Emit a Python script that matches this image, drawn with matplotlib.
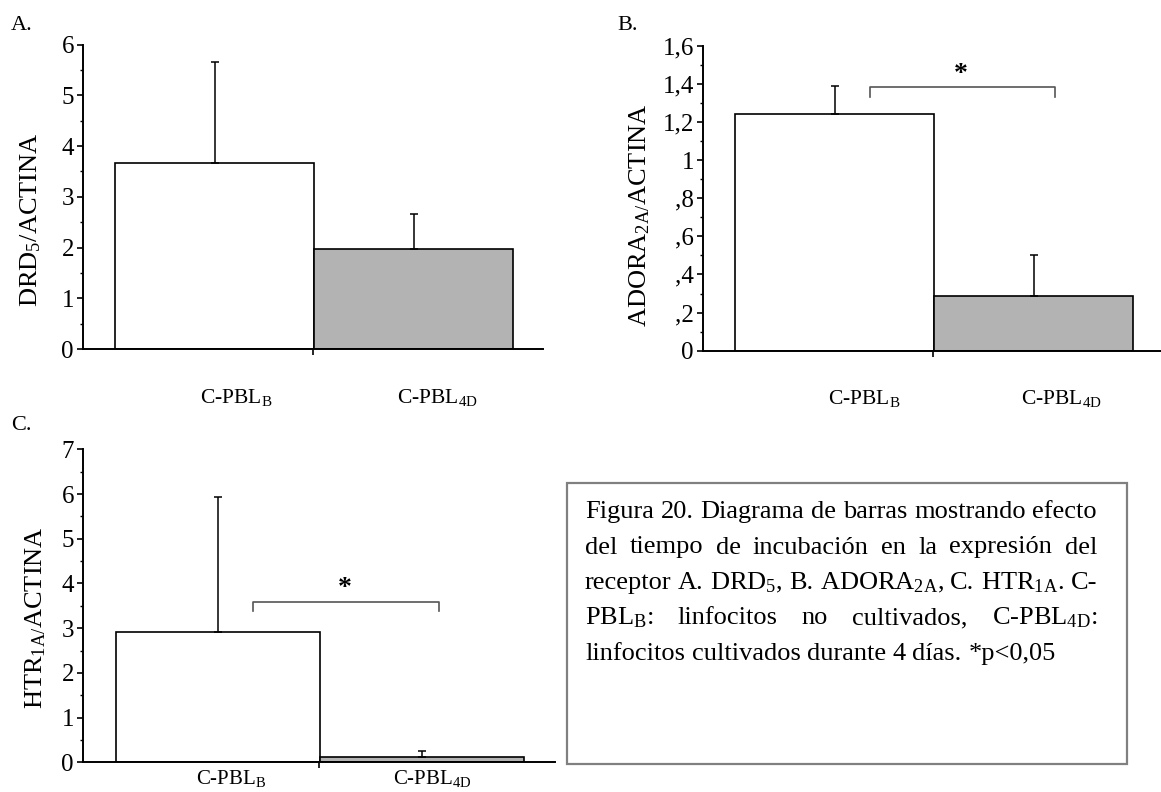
import numpy as np
import matplotlib
matplotlib.use("Agg")
import matplotlib.pyplot as plt
from matplotlib.patches import Rectangle
from matplotlib.ticker import MultipleLocator

plt.rcParams["font.family"] = ["Liberation Serif", "DejaVu Serif"]
plt.rcParams["mathtext.fontset"] = "custom"
plt.rcParams["mathtext.rm"] = "Liberation Serif"
plt.rcParams["mathtext.it"] = "Liberation Serif:italic"

# data (mean and upper SD for each group)
groups = ["C-PBL$_\\mathrm{B}$", "C-PBL$_\\mathrm{4D}$"]
drd5_mean = [3.66, 1.97]
drd5_err = [1.99, 0.69]
adora_mean = [1.243, 0.287]
adora_err = [0.146, 0.215]
htr_mean = [2.92, 0.11]
htr_err = [3.02, 0.15]
adora_ticks = [0, 0.2, 0.4, 0.6, 0.8, 1.0, 1.2, 1.4, 1.6]
adora_ticklabels = ["0", ",2", ",4", ",6", ",8", "1", "1,2", "1,4", "1,6"]

bar_colors = ["white", "#b3b3b3"]
W, H = 1161, 792

fig = plt.figure(figsize=(W / 100, H / 100), dpi=100)


def px_rect(x0, x1, ytop, ybot):
    return [x0 / W, 1 - ybot / H, (x1 - x0) / W, (ybot - ytop) / H]


def panel(rect, means, errs, ymax, major, minor, tick_fs, label_x, label_pad, label_fs):
    ax = fig.add_axes(rect)
    xpos = 1 + np.array([-0.428, 0.437])
    ax.bar(xpos, means, width=0.862, color=bar_colors, edgecolor="black",
           linewidth=1.2, zorder=2)
    ax.errorbar(xpos, means, yerr=[np.zeros(len(errs)), errs], fmt="none",
                ecolor="black", elinewidth=1.1, capsize=3, capthick=1.1, zorder=3)
    ax.set_xlim(0, 2)
    ax.set_ylim(0, ymax)
    for s in ["top", "right"]:
        ax.spines[s].set_visible(False)
    for s in ["left", "bottom"]:
        ax.spines[s].set_linewidth(1.4)
    ax.yaxis.set_major_locator(MultipleLocator(major))
    ax.yaxis.set_minor_locator(MultipleLocator(minor))
    ax.tick_params(axis="y", which="major", length=4.5, width=1.2, pad=2, labelsize=tick_fs)
    ax.tick_params(axis="y", which="minor", length=2.5, width=1.0)
    ax.set_xticks(label_x, groups)
    ax.set_xticks([1], minor=True)
    ax.tick_params(axis="x", which="major", length=0, pad=label_pad, labelsize=label_fs)
    ax.tick_params(axis="x", which="minor", length=4, width=1.2)
    return ax


def bracket(ax, x0, x1, ytop, ybot, star_x, star_y):
    ax.plot([x0, x0, x1, x1], [ybot, ytop, ytop, ybot], color="#555555", lw=1.2,
            clip_on=False, zorder=4)
    ax.text(star_x, star_y, "*", ha="center", va="center", fontsize=20,
            fontweight="bold", clip_on=False)


# A
axA = panel(px_rect(83, 543, 44.7, 349), drd5_mean, drd5_err, 6, 1, 0.5, 18,
            [0.665, 1.54], 27, 15.5)
fig.text(31 / W, 1 - 220 / H, "DRD$_5$/ACTINA", rotation=90, ha="center",
         va="center", fontsize=19)
fig.text(11 / W, 1 - 30 / H, "A.", fontsize=16, va="baseline")

# B
axB = panel(px_rect(703, 1163, 45.7, 350.7), adora_mean, adora_err, 1.6, 0.2, 0.1, 18,
            [0.70, 1.56], 27, 15.5)
axB.set_yticks(adora_ticks, adora_ticklabels)
bracket(axB, 0.726, 1.530, 1.385, 1.333, 1.122, 1.45)
fig.text(640 / W, 1 - 215 / H, "ADORA$_{\\mathrm{2A}/}$ACTINA", rotation=90,
         ha="center", va="center", fontsize=19)
fig.text(617 / W, 1 - 30 / H, "B.", fontsize=16, va="baseline")

# C
axC = panel(px_rect(83, 555, 449.3, 762.3), htr_mean, htr_err, 7, 1, 0.5, 18,
            [0.627, 1.48], 4, 15)
bracket(axC, 0.719, 1.51, 3.59, 3.38, 1.11, 3.88)
fig.text(36 / W, 1 - 618 / H, "HTR$_{\\mathrm{1A}/}$ACTINA", rotation=90,
         ha="center", va="center", fontsize=19)
fig.text(11 / W, 1 - 430 / H, "C.", fontsize=16, va="baseline")

# caption box
fig.add_artist(Rectangle((567 / W, 1 - 764 / H), (1127 - 567) / W, (764 - 483) / H,
                         transform=fig.transFigure, fill=False,
                         edgecolor="#808080", linewidth=1.6))

caption = [
    "Figura 20. Diagrama de barras mostrando efecto",
    "del tiempo de incubación en la expresión del",
    "receptor A. DRD$_5$, B. ADORA$_{\\mathrm{2A}}$, C. HTR$_{\\mathrm{1A}}$. C-",
    "PBL$_\\mathrm{B}$: linfocitos no cultivados, C-PBL$_{\\mathrm{4D}}$:",
    "linfocitos cultivados durante 4 días. *p<0,05",
]
cap_x0, cap_x1 = 585, 1097
baselines = [518, 553.5, 589, 624.5, 660]

renderer = fig.canvas.get_renderer()
probe = fig.text(0, 0, caption[0], fontsize=14)
fs = 14 * (cap_x1 - cap_x0) / probe.get_window_extent(renderer).width
probe.remove()

for i, line in enumerate(caption):
    words = line.split(" ")
    texts = [fig.text(0, 1 - baselines[i] / H, w, fontsize=fs, va="baseline")
             for w in words]
    widths = [t.get_window_extent(renderer).width for t in texts]
    if i < len(caption) - 1:
        gap = (cap_x1 - cap_x0 - sum(widths)) / (len(words) - 1)
    else:
        gap = fs * 100 / 72 * 0.25
    x = cap_x0
    for t, w in zip(texts, widths):
        t.set_x(x / W)
        x += w + gap

fig.savefig("out.png", dpi=100)
